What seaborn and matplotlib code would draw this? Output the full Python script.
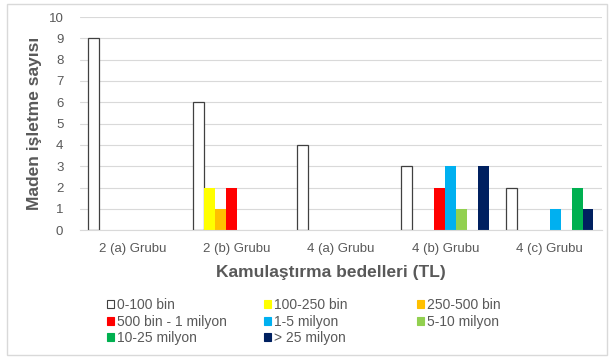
import matplotlib
matplotlib.use("Agg")
import matplotlib.pyplot as plt
from matplotlib.patches import Rectangle, Patch
import seaborn as sns
import pandas as pd

groups = ["2 (a) Grubu", "2 (b) Grubu", "4 (a) Grubu", "4 (b) Grubu", "4 (c) Grubu"]
series = ["0-100 bin", "100-250 bin", "250-500 bin", "500 bin - 1 milyon",
          "1-5 milyon", "5-10 milyon", "10-25 milyon", "> 25 milyon"]
v_0_100 = [9, 6, 4, 3, 2]
v_100_250 = [0, 2, 0, 0, 0]
v_250_500 = [0, 1, 0, 0, 0]
v_500_1m = [0, 2, 0, 2, 0]
v_1_5m = [0, 0, 0, 3, 1]
v_5_10m = [0, 0, 0, 1, 0]
v_10_25m = [0, 0, 0, 0, 2]
v_25m_plus = [0, 0, 0, 3, 1]
colors = ["#FFFFFF", "#FFFF00", "#FFC000", "#FF0000",
          "#00B0F0", "#92D050", "#00B050", "#002060"]

values = [v_0_100, v_100_250, v_250_500, v_500_1m, v_1_5m, v_5_10m, v_10_25m, v_25m_plus]
rows = []
for s, vals in zip(series, values):
    for g, v in zip(groups, vals):
        rows.append({"grup": g, "seri": s, "adet": v})
df = pd.DataFrame(rows)

sns.set_theme(style="white")
plt.rcParams["font.family"] = ["Liberation Sans", "DejaVu Sans"]
txt = "#595959"

fig = plt.figure(figsize=(6.11, 3.63), dpi=100)
ax = fig.add_axes([0.131, 0.366, 0.854, 0.587])

sns.barplot(data=df, x="grup", y="adet", hue="seri", order=groups,
            hue_order=series, palette=colors, saturation=1, width=0.84, gap=0,
            linewidth=0, ax=ax, legend=False)

# White series gets a dark outline
for bar in ax.containers[0]:
    bar.set_edgecolor("#404040")
    bar.set_linewidth(0.9)

ax.set_ylim(0, 10)
ax.set_xlim(-0.5, len(groups) - 0.5)
ax.set_yticks(range(0, 11))
ax.yaxis.grid(True, color="#d9d9d9", linewidth=0.8)
ax.set_axisbelow(True)
for side in ["top", "right", "left"]:
    ax.spines[side].set_visible(False)
ax.spines["bottom"].set_color("#d9d9d9")
ax.spines["bottom"].set_linewidth(0.8)
ax.tick_params(axis="both", length=0, labelsize=9.5, colors=txt)
ax.tick_params(axis="y", pad=12)
ax.tick_params(axis="x", pad=9)

ax.set_ylabel("Maden işletme sayısı", fontsize=12.5, fontweight="bold", color=txt, labelpad=5)
ax.set_xlabel("Kamulaştırma bedelleri (TL)", fontsize=12.5, fontweight="bold", color=txt, labelpad=9)
ax.xaxis.set_label_coords(0.48, -0.165)

# Legend laid out row by row in three columns
handles = [Patch(facecolor=c, edgecolor=("#404040" if i == 0 else c), linewidth=0.8)
           for i, c in enumerate(colors)]
col_x = [0.175, 0.432, 0.682]
for c, x0 in enumerate(col_x):
    idx = list(range(c, len(series), 3))
    fig.legend([handles[i] for i in idx], [series[i] for i in idx],
               loc="upper left", bbox_to_anchor=(x0, 0.178),
               frameon=False, fontsize=10, labelcolor=txt,
               handlelength=0.5, handleheight=0.5, handletextpad=0.25,
               labelspacing=0.18, borderaxespad=0, borderpad=0)

fig.add_artist(Rectangle((7 / 611, 8 / 363), 600 / 611, 351 / 363, transform=fig.transFigure,
                         fill=False, edgecolor="#d9d9d9", linewidth=1))

fig.savefig("out.png", dpi=100)
